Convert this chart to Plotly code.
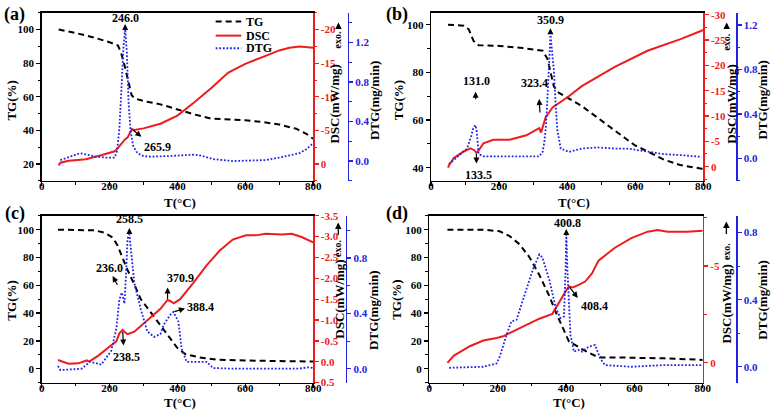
import numpy as np
import plotly.graph_objects as go

# ---------------- data ----------------
# panel (a)
T_tg_a = [50, 100, 150, 200, 225, 235, 245, 255, 265, 275, 300, 350, 400, 450, 500, 550, 600, 650, 700, 750, 780, 800]
tg_a = [100, 98, 95.5, 92.5, 90.5, 85.5, 78, 69, 61, 59, 57.5, 55.5, 52.5, 49.5, 47, 46.5, 46, 45, 43.5, 41, 38, 35]
T_dsc_a = [50, 55, 80, 130, 175, 205, 215, 225, 235, 246, 253, 261, 265.9, 273, 300, 350, 400, 450, 500, 550, 600, 660, 700, 730, 760, 800]
dsc_a = [0.2, -0.2, -0.5, -0.7, -1.3, -1.7, -1.9, -2.4, -3.1, -3.7, -3.95, -4.8, -5.2, -5.05, -5.3, -6.0, -7.2, -9.2, -11.3, -13.6, -14.9, -16.1, -16.9, -17.3, -17.5, -17.3]
T_dtg_a = [55, 80, 113, 140, 157, 190, 215, 222, 229, 236, 241, 246, 251, 256, 262, 270, 282, 300, 321, 370, 418, 450, 470, 505, 563, 621, 660, 708, 740, 760, 780, 800]
dtg_a = [0.01, 0.04, 0.08, 0.06, 0.045, 0.035, 0.035, 0.1, 0.33, 0.8, 1.15, 1.34, 1.1, 0.6, 0.3, 0.15, 0.08, 0.05, 0.045, 0.05, 0.06, 0.065, 0.055, 0.02, 0.0, 0.005, 0.01, 0.04, 0.06, 0.08, 0.12, 0.18]

# panel (b)
T_tg_b = [50, 96, 111, 125, 140, 202, 270, 328, 342, 352, 361, 376, 443, 520, 598, 684, 733, 795, 800]
tg_b = [100, 99.6, 98, 93.2, 91.4, 91.1, 90.2, 89.1, 85.7, 78.9, 74.1, 71.4, 65.9, 57.7, 49.5, 43.4, 41.1, 39.6, 39.5]
T_dsc_b = [50, 53, 67, 96, 116, 128, 133.5, 140, 154, 183, 231, 280, 310, 318, 323.4, 330, 337, 347, 357, 405, 443, 540, 636, 733, 795, 800]
dsc_b = [0.2, -0.3, -1.7, -3.0, -3.6, -3.2, -2.7, -3.2, -4.6, -5.3, -5.3, -6.2, -7.3, -7.6, -6.75, -8.5, -9.8, -10.7, -11.7, -13.9, -15.9, -19.7, -22.9, -25.2, -26.9, -27.0]
T_dtg_b = [53, 77, 96, 106, 118, 124, 128, 131, 134, 137, 140, 154, 200, 251, 318, 328, 333, 338, 342, 347, 351, 355, 361, 366, 371, 381, 405, 443, 490, 540, 580, 598, 684, 740, 795]
dtg_b = [-0.05, 0.01, 0.06, 0.09, 0.2, 0.27, 0.29, 0.3, 0.25, 0.12, 0.04, 0.02, 0.02, 0.015, 0.02, 0.06, 0.15, 0.3, 0.5, 0.85, 1.11, 1.0, 0.79, 0.5, 0.26, 0.09, 0.06, 0.09, 0.1, 0.09, 0.09, 0.08, 0.04, 0.03, 0.015]

# panel (c)
T_tg_c = [48, 157, 186, 210, 224, 239, 253, 273, 292, 321, 350, 379, 399, 423, 466, 515, 611, 800]
tg_c = [100, 99.5, 97.7, 94.2, 88.4, 79, 71, 60.5, 50, 40.7, 31.4, 22.1, 15.1, 10.5, 8.1, 6.5, 5.8, 5.1]
T_dsc_c = [48, 79, 108, 128, 133, 140, 166, 195, 220, 229, 238.5, 246, 253, 273, 311, 350, 370.9, 380, 389, 408, 447, 486, 524, 563, 602, 631, 660, 708, 737, 766, 800]
dsc_c = [-0.04, 0.05, 0.04, -0.02, -0.03, 0.0, -0.14, -0.33, -0.49, -0.68, -0.76, -0.7, -0.66, -0.72, -0.99, -1.27, -1.48, -1.45, -1.40, -1.5, -1.89, -2.31, -2.66, -2.93, -3.03, -3.03, -3.07, -3.05, -3.07, -2.99, -2.86]
T_dtg_c = [48, 55, 118, 128, 142, 160, 176, 205, 220, 229, 236, 241, 244, 249, 253, 258.5, 265, 273, 292, 311, 331, 350, 360, 379, 388.4, 403, 412, 427, 466, 486, 505, 563, 660, 757, 786, 800]
dtg_c = [0.02, -0.01, 0.0, 0.02, 0.05, 0.04, 0.03, 0.13, 0.29, 0.5, 0.55, 0.5, 0.47, 0.71, 0.94, 0.97, 0.81, 0.62, 0.43, 0.27, 0.23, 0.25, 0.32, 0.39, 0.41, 0.34, 0.15, 0.05, 0.05, 0.05, 0.005, 0.0, 0.0, 0.0, 0.01, 0.005]

# panel (d)
T_tg_d = [53, 158, 206, 235, 264, 293, 322, 351, 370, 394, 408, 447, 485, 504, 543, 687, 800]
tg_d = [100, 100, 98.8, 95.3, 89.5, 80.2, 67.4, 52.3, 40.7, 26.7, 19.8, 14, 9.3, 8.1, 8.1, 7.4, 6.3]
T_dsc_d = [53, 72, 120, 158, 197, 216, 245, 283, 322, 360, 379, 399, 408.4, 420, 437, 456, 476, 495, 543, 591, 639, 668, 697, 754, 800]
dsc_d = [0.0, -0.37, -0.87, -1.15, -1.28, -1.37, -1.62, -1.95, -2.28, -2.53, -3.12, -3.7, -3.95, -3.9, -4.03, -4.2, -4.62, -5.28, -5.95, -6.45, -6.78, -6.87, -6.78, -6.78, -6.83]
T_dtg_d = [58, 158, 197, 206, 226, 240, 255, 274, 303, 322, 331, 351, 370, 384, 394, 399, 400.8, 404, 413, 423, 437, 447, 466, 485, 500, 514, 591, 687, 800]
dtg_d = [-0.006, 0.0, 0.02, 0.06, 0.19, 0.27, 0.28, 0.4, 0.58, 0.67, 0.65, 0.52, 0.35, 0.29, 0.3, 0.6, 0.8, 0.58, 0.19, 0.09, 0.1, 0.09, 0.12, 0.13, 0.05, 0.01, 0.0, 0.01, 0.01]

# tick values
x_ticks = [0, 200, 400, 600, 800]
tg_ticks_a = [20, 40, 60, 80, 100]
tg_ticks_b = [40, 60, 80, 100]
tg_ticks_c = [0, 20, 40, 60, 80, 100]
tg_ticks_d = [0, 20, 40, 60, 80, 100]
dsc_ticks_a = [0, -5, -10, -15, -20]
dsc_ticks_b = [0, -5, -10, -15, -20, -25, -30]
dsc_ticks_c = [0.5, 0.0, -0.5, -1.0, -1.5, -2.0, -2.5, -3.0, -3.5]
dsc_ticks_d = [0, -5]
dtg_ticks_a = [0.0, 0.4, 0.8, 1.2]
dtg_ticks_b = [0.0, 0.4, 0.8, 1.2]
dtg_ticks_c = [0.0, 0.4, 0.8]
dtg_ticks_d = [0.0, 0.4, 0.8]

# peak labels: (label, series)
labels_a = [("246.0", "dtg"), ("265.9", "dsc")]
labels_b = [("131.0", "dtg"), ("133.5", "dsc"), ("323.4", "dsc"), ("350.9", "dtg")]
labels_c = [("258.5", "dtg"), ("236.0", "dtg"), ("238.5", "dsc"), ("370.9", "dsc"), ("388.4", "dtg")]
labels_d = [("400.8", "dtg"), ("408.4", "dsc")]

series_names = ["TG", "DSC", "DTG"]

# ---------------- styling / layout ----------------
W, H = 778, 417
FONT = "Liberation Serif"
RED = "#ee1c1c"
BLUE = "#2323e6"
BLACK = "#000000"
LINE_STYLES = {
    "TG": dict(color=BLACK, width=2, dash="6px,4px"),
    "DSC": dict(color=RED, width=2),
    "DTG": dict(color=BLUE, width=1.8, dash="1.8px,1.8px"),
}

# label placement (pixels, screen coords: +x right, +y down)
# text offset, arrow-head offset, standoff from the data point
label_style = {
    "246.0": ((0, -11), (0, -6), 0),
    "265.9": ((26, 18), (11, 9), 1),
    "131.0": ((1, -44), (0, -35), 26),
    "133.5": ((2, 22), (0, 12), 1),
    "323.4": ((-7, -49), (-2, -35), 20),
    "350.9": ((0, -16), (0, -9), 2),
    "258.5": ((0, -15), (0, -8), 1),
    "236.0": ((-12, -25), (-10, -18), 9),
    "238.5": ((4, 27), (1, 17), 2),
    "370.9": ((13, -22), (0, -14), 1),
    "388.4": ((27, -5), (13, -4), 1),
    "400.8": ((1, -10), (0, -5), 0),
    "408.4": ((26, 20), (10, 13), 1),
}

panels = [
    dict(name="(a)", data=(T_tg_a, tg_a, T_dsc_a, dsc_a, T_dtg_a, dtg_a),
         xpx=(39.3, 315.0), ypx=(7, 180), dtg_px=350.0,
         tg_range=[10, 110], tg_ticks=tg_ticks_a,
         dsc_range=[2.5, -22.5], dsc_ticks=dsc_ticks_a, dsc_minor=2.5, dsc_fmt="{:g}",
         dtg_range=[-0.2, 1.5], dtg_ticks=dtg_ticks_a, labels=labels_a,
         lab=(12, 9), tg_t=(8.5, 97), t_t=(180, 202), dsc_t=(336.7, 101), dtg_t=(376.7, 97),
         exo=(340.7, 17, 25, 35)),
    dict(name="(b)", data=(T_tg_b, tg_b, T_dsc_b, dsc_b, T_dtg_b, dtg_b),
         xpx=(434.7, 711.3), ypx=(7, 180), dtg_px=744.7,
         tg_range=[34.5, 105], tg_ticks=tg_ticks_b,
         dsc_range=[2.8, -30.4], dsc_ticks=dsc_ticks_b, dsc_minor=2.5, dsc_fmt="{:g}",
         dtg_range=[-0.2, 1.31], dtg_ticks=dtg_ticks_b, labels=labels_b,
         lab=(400.5, 9), tg_t=(401.3, 97), t_t=(579.7, 202), dsc_t=(739, 101), dtg_t=(771.3, 97),
         exo=(735, 17, 25, 37)),
    dict(name="(c)", data=(T_tg_c, tg_c, T_dsc_c, dsc_c, T_dtg_c, dtg_c),
         xpx=(39.3, 315.0), ypx=(216, 387.7), dtg_px=348.3,
         tg_range=[-10, 110], tg_ticks=tg_ticks_c,
         dsc_range=[0.5, -3.5], dsc_ticks=dsc_ticks_c, dsc_minor=None, dsc_fmt="{:.1f}",
         dtg_range=[-0.1, 1.105], dtg_ticks=dtg_ticks_c, labels=labels_c,
         lab=(12, 214), tg_t=(8.5, 303), t_t=(180, 408), dsc_t=(341.7, 302), dtg_t=(376.7, 313),
         exo=(340.5, 223, 237, 250)),
    dict(name="(d)", data=(T_tg_d, tg_d, T_dsc_d, dsc_d, T_dtg_d, dtg_d),
         xpx=(433.0, 710.7), ypx=(216, 387.7), dtg_px=744.7,
         tg_range=[-10, 110], tg_ticks=tg_ticks_d,
         dsc_range=[1.02, -7.6], dsc_ticks=dsc_ticks_d, dsc_minor=2.5, dsc_fmt="{:g}",
         dtg_range=[-0.094, 0.9], dtg_ticks=dtg_ticks_d, labels=labels_d,
         lab=(400.5, 214), tg_t=(399.7, 303), t_t=(574.7, 408), dsc_t=(734.7, 307), dtg_t=(771.3, 303),
         exo=(734.7, 222, 236, 253)),
]

# manual legend geometry (pixels): line x-span, text x, row y
LEG_X0, LEG_X1, LEG_TX = 216, 242, 245
LEG_Y = [16, 30.5, 43.5]


def tick_font(color):
    return dict(family=FONT, size=11, color=color, weight="bold")


def fmt_ticks(vals, fmt):
    return [fmt.format(v) for v in vals]


fig = go.Figure()
layout = dict(
    width=W, height=H, autosize=False,
    margin=dict(l=0, r=0, t=0, b=0),
    paper_bgcolor="white", plot_bgcolor="rgba(0,0,0,0)",
    showlegend=False,
)
annotations = []
shapes = []

for i, p in enumerate(panels):
    xn = i + 1
    xid = "x" if xn == 1 else f"x{xn}"
    xkey = "xaxis" if xn == 1 else f"xaxis{xn}"
    ytg, ydsc, ydtg = 3 * i + 1, 3 * i + 2, 3 * i + 3
    yid = lambda n: "y" if n == 1 else f"y{n}"
    ykey = lambda n: "yaxis" if n == 1 else f"yaxis{n}"

    Ttg, tg, Tdsc, dsc, Tdtg, dtg = p["data"]
    for (Tx, vy, yn), nm in zip([(Ttg, tg, ytg), (Tdsc, dsc, ydsc), (Tdtg, dtg, ydtg)], series_names):
        fig.add_trace(go.Scatter(x=Tx, y=vy, mode="lines", name=nm, showlegend=False,
                                 line=LINE_STYLES[nm], hoverinfo="skip",
                                 xaxis=xid, yaxis=yid(yn)))

    x0, x1 = p["xpx"]
    ytop, ybot = p["ypx"]
    layout[xkey] = dict(
        domain=[x0 / W, x1 / W], range=[0, 800], anchor=yid(ytg),
        tickmode="array", tickvals=x_ticks, ticktext=[str(v) for v in x_ticks],
        ticks="outside", ticklen=4, tickwidth=1.3, tickcolor="black", ticklabelstandoff=-9,
        minor=dict(tickmode="linear", tick0=0, dtick=100, ticks="outside", ticklen=2.5, tickwidth=1, tickcolor="black"),
        showline=True, linecolor="black", linewidth=1.4, mirror=True,
        showgrid=False, zeroline=False, tickfont=tick_font("black"))
    layout[ykey(ytg)] = dict(
        domain=[1 - ybot / H, 1 - ytop / H], range=p["tg_range"], anchor=xid, side="left",
        tickmode="array", tickvals=p["tg_ticks"], ticktext=[str(v) for v in p["tg_ticks"]],
        ticks="outside", ticklen=4, tickwidth=1.3, tickcolor="black",
        minor=dict(tickmode="linear", tick0=0, dtick=10, ticks="outside", ticklen=2.5, tickwidth=1, tickcolor="black"),
        showline=True, linecolor="black", linewidth=1.4,
        showgrid=False, zeroline=False, tickfont=tick_font("black"))
    dsc_ax = dict(
        overlaying=yid(ytg), anchor=xid, side="right", range=p["dsc_range"],
        tickmode="array", tickvals=p["dsc_ticks"], ticktext=fmt_ticks(p["dsc_ticks"], p["dsc_fmt"]),
        ticks="outside", ticklen=4, tickwidth=1.3, tickcolor=RED,
        showline=True, linecolor=RED, linewidth=1.4,
        showgrid=False, zeroline=False, tickfont=tick_font(RED))
    if p["dsc_minor"]:
        dsc_ax["minor"] = dict(tickmode="linear", tick0=0, dtick=p["dsc_minor"], ticks="outside",
                               ticklen=2.5, tickwidth=1, tickcolor=RED)
    layout[ykey(ydsc)] = dsc_ax
    layout[ykey(ydtg)] = dict(
        overlaying=yid(ytg), anchor="free", position=p["dtg_px"] / W, side="right",
        range=p["dtg_range"],
        tickmode="array", tickvals=p["dtg_ticks"], ticktext=["{:.1f}".format(v) for v in p["dtg_ticks"]],
        ticks="outside", ticklen=4, tickwidth=1.3, tickcolor=BLUE,
        minor=dict(tickmode="linear", tick0=0, dtick=0.2, ticks="outside", ticklen=2.5, tickwidth=1, tickcolor=BLUE),
        showline=True, linecolor=BLUE, linewidth=1.4,
        showgrid=False, zeroline=False, tickfont=tick_font(BLUE))

    # peak labels & arrows
    series = {"dsc": (Tdsc, dsc, ydsc), "dtg": (Tdtg, dtg, ydtg)}
    for text, s in p["labels"]:
        Ts, vs, yn = series[s]
        t = float(text)
        v = float(np.interp(t, Ts, vs))
        (tx, ty), (hx, hy), so = label_style[text]
        annotations.append(dict(x=t, y=v, xref=xid, yref=yid(yn), text="", showarrow=True,
                                ax=hx, ay=hy, arrowside="start", startarrowhead=2, startarrowsize=1,
                                arrowwidth=1.2, arrowcolor="black", standoff=so))
        annotations.append(dict(x=t, y=v, xref=xid, yref=yid(yn), text=text, showarrow=False,
                                xshift=tx, yshift=-ty,
                                font=dict(family=FONT, size=12, color="black", weight="bold")))

    # panel label and axis titles
    def pa(txt, pos, size, angle=0, xanchor="center"):
        annotations.append(dict(x=pos[0] / W, y=1 - pos[1] / H, xref="paper", yref="paper",
                                text=txt, showarrow=False, textangle=angle,
                                xanchor=xanchor, yanchor="middle",
                                font=dict(family=FONT, size=size, color="black", weight="bold")))
    pa(p["name"], p["lab"], 18)
    pa("TG(%)", p["tg_t"], 13, -90)
    pa("T(°C)", p["t_t"], 13)
    pa("DSC(mW/mg)", p["dsc_t"], 13, -90)
    pa("DTG(mg/min)", p["dtg_t"], 13, -90)
    ex, ehead, etail, etext = p["exo"]
    annotations.append(dict(x=ex / W, y=1 - ehead / H, xref="paper", yref="paper", text="",
                            showarrow=True, ax=0, ay=etail - ehead, arrowhead=2, arrowsize=1,
                            arrowwidth=1.3, arrowcolor="black"))
    pa("exo.", (ex, etext), 10, -90)

# manual legend (panel a)
for nm, ly in zip(series_names, LEG_Y):
    shapes.append(dict(type="line", xref="paper", yref="paper",
                       x0=LEG_X0 / W, x1=LEG_X1 / W, y0=1 - ly / H, y1=1 - ly / H,
                       line=LINE_STYLES[nm]))
    annotations.append(dict(x=LEG_TX / W, y=1 - ly / H, xref="paper", yref="paper", text=nm,
                            showarrow=False, xanchor="left", yanchor="middle",
                            font=dict(family=FONT, size=12, color="black", weight="bold")))

layout["annotations"] = annotations
layout["shapes"] = shapes
fig.update_layout(**layout)
fig.write_html("out.html", config={"displayModeBar": False, "staticPlot": True},
               post_script="document.body.style.margin='0';document.body.style.padding='0';"
                           "document.documentElement.style.overflow='hidden';")
